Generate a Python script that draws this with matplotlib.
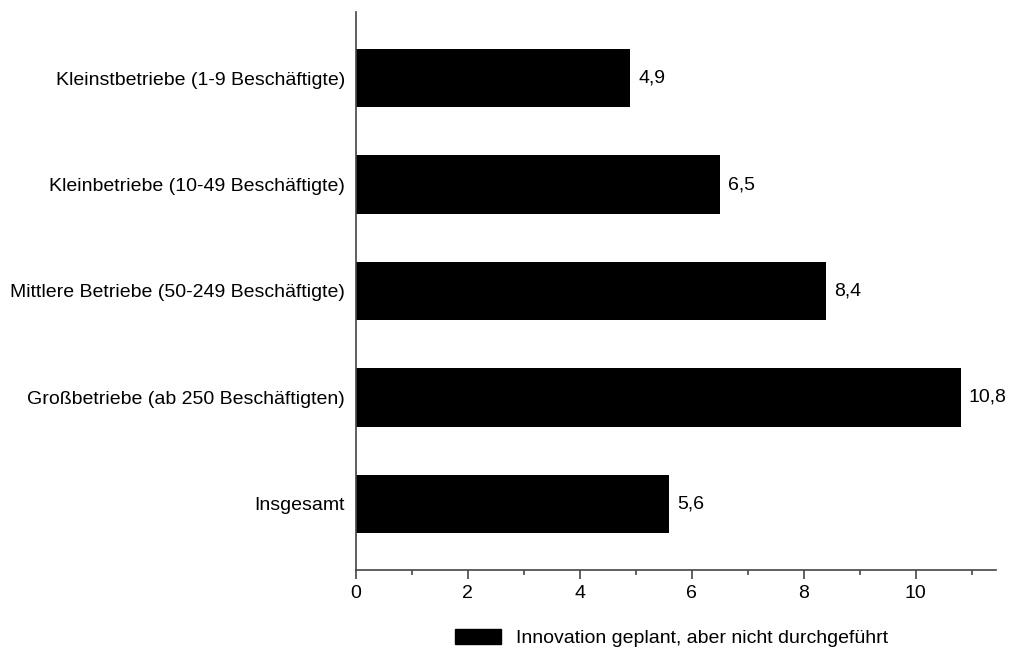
import matplotlib.pyplot as plt
from matplotlib.patches import Patch
from matplotlib.ticker import MultipleLocator

plt.rcParams['font.family'] = ['Liberation Sans', 'DejaVu Sans']

# Daten
categories = [
    "Kleinstbetriebe (1-9 Beschäftigte)",
    "Kleinbetriebe (10-49 Beschäftigte)",
    "Mittlere Betriebe (50-249 Beschäftigte)",
    "Großbetriebe (ab 250 Beschäftigten)",
    "Insgesamt",
]
values = [4.9, 6.5, 8.4, 10.8, 5.6]
labels = ["4,9", "6,5", "8,4", "10,8", "5,6"]
series_name = "Innovation geplant, aber nicht durchgeführt"

fig = plt.figure(figsize=(10.11, 6.52), dpi=100)
ax = fig.add_axes([0.352, 0.1258, 0.633, 0.8558])

pos = list(range(len(categories)))
ax.barh(pos, values, height=0.55, color='black')
for p, v, t in zip(pos, values, labels):
    ax.text(v + 0.14, p, t, va='center', ha='left', fontsize=14)

ax.set_yticks(pos)
ax.set_yticklabels(categories, fontsize=14)
ax.set_ylim(4.62, -0.62)
ax.set_xlim(0, 11.43)
ax.xaxis.set_major_locator(MultipleLocator(2))
ax.xaxis.set_minor_locator(MultipleLocator(1))
ax.tick_params(axis='x', which='both', direction='out', color='#444444',
               labelsize=14, width=1.2)
ax.tick_params(axis='x', which='major', length=6.5, pad=4)
ax.tick_params(axis='x', which='minor', length=3.5)
ax.tick_params(axis='y', length=0, pad=8)

for s in ['top', 'right']:
    ax.spines[s].set_visible(False)
for s in ['left', 'bottom']:
    ax.spines[s].set_color('#444444')
    ax.spines[s].set_linewidth(1.2)

fig.legend(handles=[Patch(color='black', label=series_name)],
           loc='center', bbox_to_anchor=(0.664, 0.021), frameon=False,
           fontsize=14, handlelength=2.4, handleheight=0.75, handletextpad=0.75)

fig.savefig('out.png', dpi=100)
